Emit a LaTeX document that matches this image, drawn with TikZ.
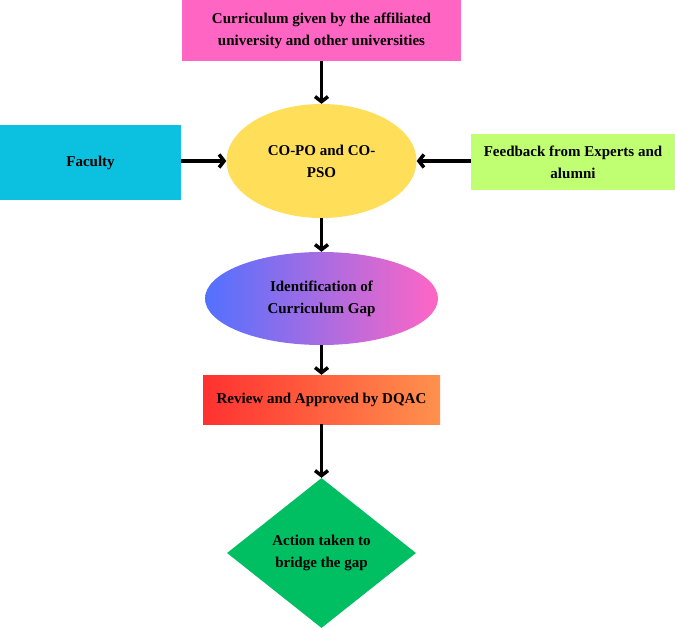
\documentclass[tikz,border=0pt]{standalone}
\usepackage{fontspec}
\setmainfont{Liberation Serif}
\usetikzlibrary{arrows.meta,shapes.geometric,positioning}
\definecolor{pinkbox}{HTML}{FF66C4}
\definecolor{cyanbox}{HTML}{0CC0DF}
\definecolor{limebox}{HTML}{C1FF72}
\definecolor{yellowell}{HTML}{FFDE59}
\definecolor{bluegap}{HTML}{5271FF}
\definecolor{redrev}{HTML}{FF3131}
\definecolor{orangerev}{HTML}{FF914D}
\definecolor{greendia}{HTML}{00BF63}
\tikzset{
  basic/.style  = {draw=none, font=\bfseries\fontsize{15}{22}\selectfont, align=center, inner sep=0pt},
  inbox/.style  = {basic, rectangle},
  proc/.style   = {basic, ellipse},
  decide/.style = {basic, diamond},
  flow/.style   = {-{Straight Barb[length=5pt,width=13pt]}, line width=3.5pt, black}
}

\begin{document}
\begin{tikzpicture}[x=1pt, y=-1pt]
	\useasboundingbox (0,0) rectangle (675,629);
	
	% inputs
	\node[inbox, fill=pinkbox, minimum width=279pt, minimum height=61pt] (curr) at (321.5,30.5)
	{Curriculum given by the affiliated\\university and other universities};
	\node[inbox, fill=cyanbox, minimum width=181pt, minimum height=75pt] (fac) at (90.5,162.5) {Faculty};
	\node[inbox, fill=limebox, minimum width=204pt, minimum height=56pt] (feed) at (573,162)
	{Feedback from Experts and\\alumni};
	
	% main flow
	\node[proc, fill=yellowell, minimum width=190pt, minimum height=114pt] (copo) at (321.5,161) {CO-PO and CO-\\PSO};
	\node[proc, left color=bluegap, right color=pinkbox, minimum width=233pt, minimum height=93pt] (gap) at (321.5,298.5)
	{Identification of\\Curriculum Gap};
	\node[inbox, left color=redrev, right color=orangerev, minimum width=237pt, minimum height=49pt] (rev) at (321.5,399.5)
	{Review and Approved by DQAC};
	\node[decide, fill=greendia, minimum width=189pt, minimum height=150pt] (act) at (321.5,553)
	{Action taken to\\bridge the gap};
	
	% connectors
	\draw[flow] (curr.south) -- (copo.north);
	\draw[flow] (fac.east |- copo.west) -- (copo.west);
	\draw[flow] (feed.west |- copo.east) -- (copo.east);
	\draw[flow] (copo.south) -- (gap.north);
	\draw[flow] (gap.south) -- (rev.north);
	\draw[flow] (rev.south) -- (act.north);
	
\end{tikzpicture}
\end{document}
